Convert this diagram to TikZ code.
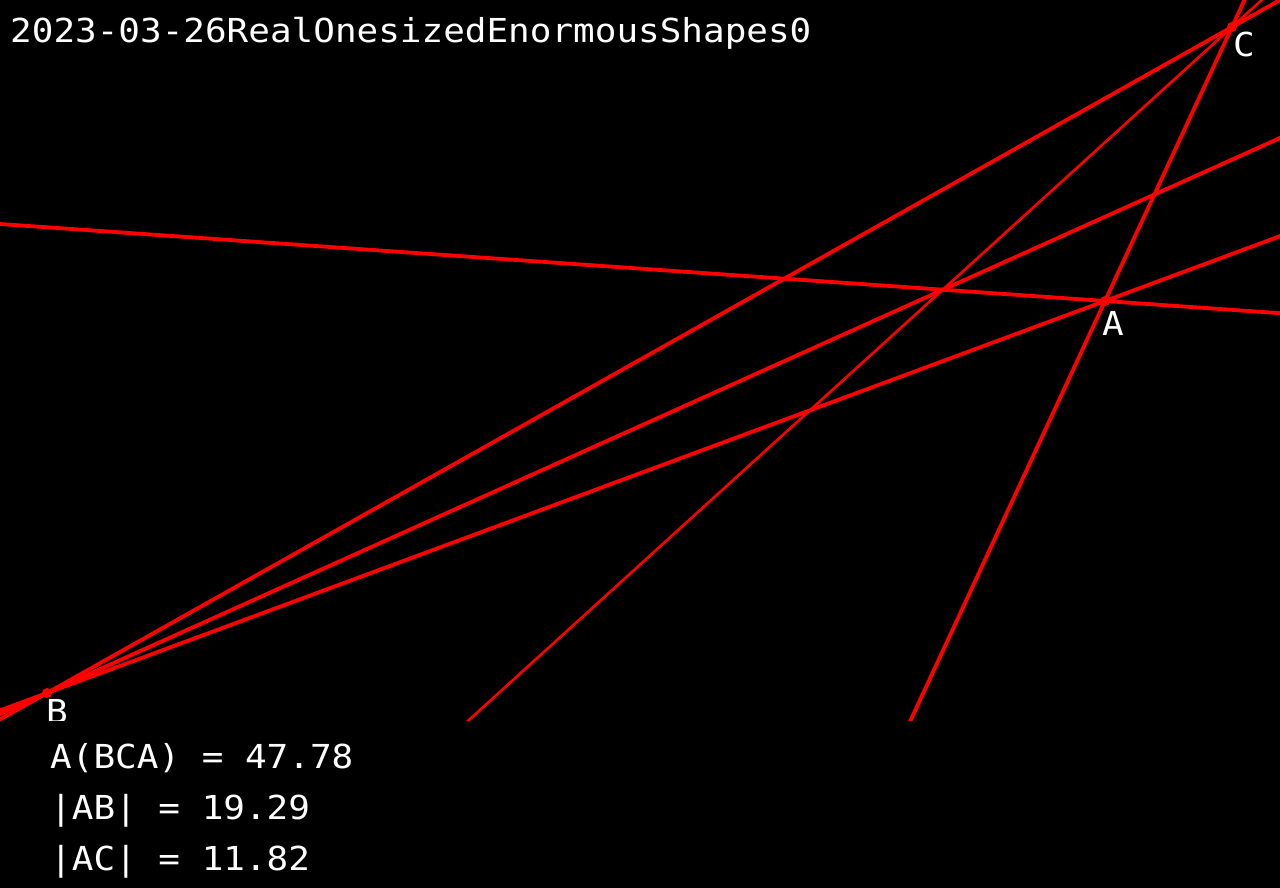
\documentclass[tikz,border=0pt]{standalone}
\usepackage{fontspec}
\newfontfamily\monof[FakeStretch=1.09]{DejaVu Sans Mono}
\usetikzlibrary{calc}
\begin{document}
\begin{tikzpicture}[x=1pt,y=-1pt,
  redline/.style={draw=red,line width=3.8pt},
  thinline/.style={draw=red,line width=2.6pt},
  ptdot/.style={circle,fill=red,inner sep=0pt,minimum size=10pt},
  txt/.style={text=white,inner sep=0pt,anchor=base west,font=\monof\fontsize{33}{33}\selectfont}]
\fill[black] (0,0) rectangle (1280,888);
\useasboundingbox (0,0) rectangle (1280,888);
\coordinate (A) at (1105,301);
\coordinate (B) at (47,693);
\coordinate (C) at (1232,27);
\coordinate (H) at (0,224);
\coordinate (D) at (1280,138);
\coordinate (T) at (469,720);
\begin{scope}
\clip (0,0) rectangle (1280,720);
\draw[redline] ($(H)!-0.2!(A)$) -- ($(A)!-0.5!(H)$);
\draw[redline] ($(B)!-2!(C)$) -- ($(C)!-2!(B)$);
\draw[redline] ($(B)!-2!(A)$) -- ($(A)!-2!(B)$);
\draw[redline] ($(B)!-0.2!(D)$) -- ($(D)!-0.2!(B)$);
\draw[redline] ($(A)!-3!(C)$) -- ($(C)!-1!(A)$);
\draw[thinline] ($(T)!-0.5!(C)$) -- ($(C)!-0.3!(T)$);
\node[ptdot] (pA) at (A) {};
\node[ptdot] (pB) at (B) {};
\node[ptdot] (pC) at (C) {};
\node[txt] (labA) at (1102,335) {A};
\node[txt] (labB) at (46,723) {B};
\node[txt] (labC) at (1233,57) {C};
\end{scope}
\node[txt] (title) at (10,43) {2023-03-26RealOnesizedEnormousShapes0};
\node[txt] (l1) at (50,768) {A(BCA) = 47.78};
\node[txt] (l2) at (50,819) {|AB| = 19.29};
\node[txt] (l3) at (50,870) {|AC| = 11.82};
\end{tikzpicture}
\end{document}
